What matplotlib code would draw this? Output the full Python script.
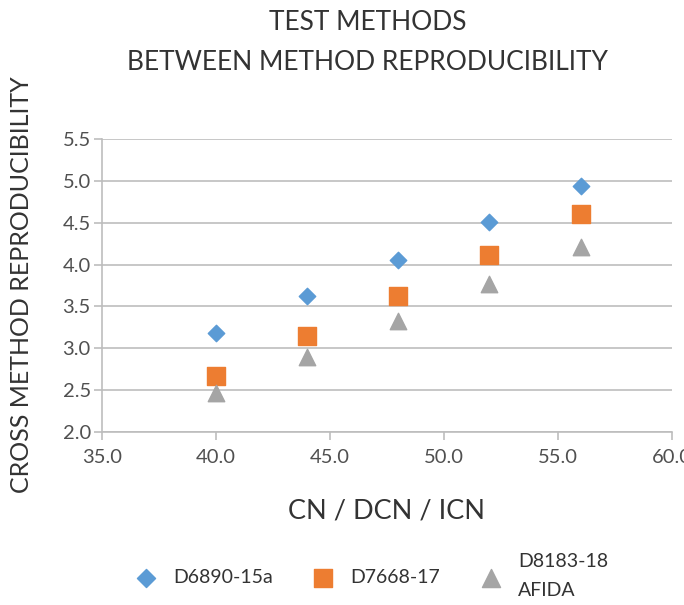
import matplotlib
matplotlib.use("Agg")
import matplotlib.pyplot as plt
import numpy as np

plt.rcParams['font.family'] = ['Lato', 'DejaVu Sans']

cn = np.array([40, 44, 48, 52, 56])
d6890 = np.array([3.18, 3.62, 4.05, 4.51, 4.94])
d7668 = np.array([2.67, 3.15, 3.62, 4.11, 4.60])
d8183 = np.array([2.47, 2.90, 3.33, 3.77, 4.21])

labels = ["D6890-15a", "D7668-17", "D8183-18\nAFIDA"]
xticks = [35.0, 40.0, 45.0, 50.0, 55.0, 60.0]
yticks = [2.0, 2.5, 3.0, 3.5, 4.0, 4.5, 5.0, 5.5]

fig = plt.figure(figsize=(6.84, 6.05), dpi=100)
ax = fig.add_axes([0.149, 0.286, 0.833, 0.484])

ax.scatter(cn, d6890, marker='D', s=70, color='#5B9BD5', label=labels[0], zorder=3)
ax.scatter(cn, d7668, marker='s', s=150, color='#ED7D31', label=labels[1], zorder=3)
ax.scatter(cn, d8183, marker='^', s=140, color='#A5A5A5', label=labels[2], zorder=3)

ax.set_xlim(35, 60)
ax.set_ylim(2.0, 5.5)
ax.set_xticks(xticks)
ax.set_yticks(yticks)
ax.set_xticklabels([f"{v:.1f}" for v in xticks])
ax.set_yticklabels([f"{v:.1f}" for v in yticks])

ax.grid(axis='y', color='#BDBDBD', linewidth=1.2)
ax.set_axisbelow(True)
for s in ['top', 'right']:
    ax.spines[s].set_visible(False)
for s in ['left', 'bottom']:
    ax.spines[s].set_color('#BDBDBD')
    ax.spines[s].set_linewidth(1.2)
ax.tick_params(axis='x', length=6, color='#BDBDBD', width=1.2, labelsize=14.5, labelcolor='#505050', pad=6)
ax.tick_params(axis='y', length=6, color='#BDBDBD', width=1.2, labelsize=14.5, labelcolor='#505050', pad=2)

ax.set_xlabel("CN / DCN / ICN", fontsize=19.5, color='#333333', labelpad=24)
fig.text(0.032, 0.53, "CROSS METHOD REPRODUCIBILITY", rotation=90, fontsize=18,
         color='#333333', ha='center', va='center')
fig.text(0.538, 0.962, "TEST METHODS", fontsize=19, color='#333333', ha='center', va='center')
fig.text(0.538, 0.897, "BETWEEN METHOD REPRODUCIBILITY", fontsize=19, color='#333333',
         ha='center', va='center')

leg = fig.legend(loc='center', bbox_to_anchor=(0.537, 0.048), ncol=3, frameon=False,
                 fontsize=14, labelcolor='#333333', handletextpad=0.4, columnspacing=1.6,
                 markerscale=1.1)
for t in leg.get_texts():
    t.set_linespacing(1.8)

fig.savefig("out.png", dpi=100)
